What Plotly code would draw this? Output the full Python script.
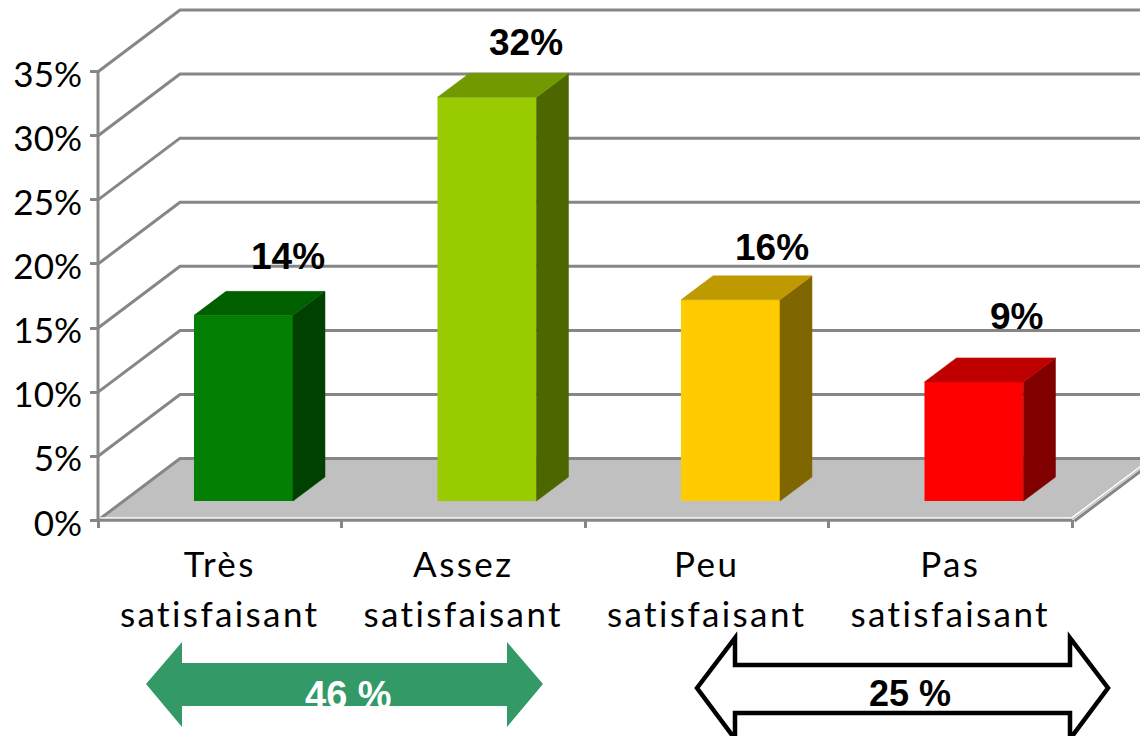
import plotly.graph_objects as go

# ---- data ----
categories = ["Très<br>satisfaisant", "Assez<br>satisfaisant", "Peu<br>satisfaisant", "Pas<br>satisfaisant"]
values = [14.49, 31.5, 15.7, 9.3]
front_colors = ["#038003", "#99CC00", "#FFCC00", "#FF0000"]
side_colors = ["#004000", "#4D6600", "#806600", "#800000"]
top_colors = ["#006000", "#739900", "#BF9900", "#BF0000"]
y_ticks = [0, 5, 10, 15, 20, 25, 30, 35]
y_tick_labels = ["0%", "5%", "10%", "15%", "20%", "25%", "30%", "35%"]
label_nudge_x = [45, 39, 42, 43]
label_nudge_y = [36, 32, 30, 43]

# ---- geometry (pixels per unit, 3D offsets) ----
PX_X, PX_Y = 243.5, 12.817
AX_L, AX_B = 98, 520.3
PLOT_L, PLOT_B = 90, 528
W, H = 1140, 736
DX_WALL, DY_WALL = 82 / PX_X, 61.7 / PX_Y
DX_BAR, DY_BAR = 32 / PX_X, 24 / PX_Y
BAR_W = 99 / PX_X
BAR_SHIFT = 0.5975
BASE = 1.5
GRID = "#868686"


def line(xs, ys, color=GRID, width=3):
    path = "M" + " L".join(f"{x},{y}" for x, y in zip(xs, ys))
    return dict(type="path", path=path, xref="x", yref="y", layer="below",
                line=dict(color=color, width=width))


def px_path(points):
    return "M" + " L".join(
        f"{(x - PLOT_L) / (W - PLOT_L)},{(PLOT_B - y) / PLOT_B}" for x, y in points) + " Z"


n = len(values)
xend = float(n)
shapes = []
# floor
shapes.append(dict(type="path", xref="x", yref="y", layer="below",
                   path=f"M0,0 L{DX_WALL},{DY_WALL} L{xend + DX_WALL},{DY_WALL} L{xend},0 Z",
                   fillcolor="#C0C0C0", line=dict(width=0)))
# wall grid lines
for t in y_ticks:
    shapes.append(line([0, DX_WALL, xend + DX_WALL], [t, t + DY_WALL, t + DY_WALL]))
# highlights and axes
shapes.append(line([0, xend], [0.17, 0.17], "#FFFFFF", 1.5))
shapes.append(line([xend - 0.002, xend + DX_WALL], [0.17, DY_WALL + 0.17], "#FFFFFF", 1.5))
shapes.append(line([xend + 0.01, xend + DX_WALL + 0.01], [-0.05, DY_WALL - 0.05]))
shapes.append(line([0, xend], [0, 0]))
shapes.append(line([0, 0], [0, 35]))

fig = go.Figure()
centers = [i + BAR_SHIFT for i in range(n)]
fig.add_trace(go.Bar(x=centers, y=values, base=[BASE] * n, width=[BAR_W] * n,
                     marker=dict(color=front_colors, line=dict(width=0)), hoverinfo="skip"))

annotations = []
for i, (c, v) in enumerate(zip(centers, values)):
    l, r = c - BAR_W / 2, c + BAR_W / 2
    b, t = BASE, BASE + v
    fig.add_trace(go.Scatter(x=[r, r + DX_BAR, r + DX_BAR, r, r], y=[b, b + DY_BAR, t + DY_BAR, t, b],
                             mode="lines", fill="toself", fillcolor=side_colors[i],
                             line=dict(color=side_colors[i], width=0.5), hoverinfo="skip"))
    fig.add_trace(go.Scatter(x=[l, r, r + DX_BAR, l + DX_BAR, l], y=[t, t, t + DY_BAR, t + DY_BAR, t],
                             mode="lines", fill="toself", fillcolor=top_colors[i],
                             line=dict(color=top_colors[i], width=0.5), hoverinfo="skip"))
    annotations.append(dict(x=c, y=t, xref="x", yref="y", text=f"{v:.0f}%", showarrow=False,
                            xanchor="center", yanchor="bottom",
                            xshift=label_nudge_x[i], yshift=label_nudge_y[i],
                            font=dict(family="Liberation Sans", size=37, color="#000000", weight="bold")))

# range arrows
green_arrow = [(146, 684), (182, 642), (182, 663), (507, 663), (507, 642), (543, 684),
               (507, 727), (507, 706), (182, 706), (182, 727)]
white_arrow = [(697, 688), (735, 638), (735, 665), (1070, 665), (1070, 638), (1108, 688),
               (1070, 739), (1070, 713), (735, 713), (735, 739)]
shapes.append(dict(type="path", xref="paper", yref="paper", layer="above", path=px_path(green_arrow),
                   fillcolor="#339966", line=dict(width=0)))
shapes.append(dict(type="path", xref="paper", yref="paper", layer="above", path=px_path(white_arrow),
                   fillcolor="#FFFFFF", line=dict(color="#000000", width=4.5)))
for text, px, base_y, color, size in [("46 %", 348, 710, "#FFFFFF", 38), ("25 %", 910, 708, "#000000", 36)]:
    annotations.append(dict(x=(px - PLOT_L) / (W - PLOT_L), y=(PLOT_B - base_y) / PLOT_B, xref="paper", yref="paper",
                            text=text, showarrow=False, xanchor="center", yanchor="bottom", yshift=-8,
                            font=dict(family="Liberation Sans", size=size, color=color, weight="bold")))

x_tick_font = dict(family="Lato", size=35, color="#000000")
y_tick_font = dict(family="Lato", size=35, color="#000000")
fig.update_layout(
    width=W, height=H, showlegend=False, paper_bgcolor="#FFFFFF", plot_bgcolor="#FFFFFF",
    margin=dict(l=PLOT_L, r=0, t=0, b=H - PLOT_B, pad=0),
    shapes=shapes, annotations=annotations,
    xaxis=dict(range=[(PLOT_L - AX_L) / PX_X, (W - AX_L) / PX_X], showgrid=False, zeroline=False, showline=False,
               tickmode="array", tickvals=[i + 0.5 for i in range(n)], ticktext=categories, ticks="",
               tickfont=x_tick_font, tickangle=0, ticklabelstandoff=13,
               minor=dict(tickmode="array", tickvals=list(range(n + 1)), ticks="inside", ticklen=8,
                          tickwidth=3, tickcolor=GRID, showgrid=False)),
    yaxis=dict(range=[(AX_B - PLOT_B) / PX_Y, AX_B / PX_Y], showgrid=False, zeroline=False, showline=False,
               tickmode="array", tickvals=y_ticks, ticktext=y_tick_labels, ticks="inside", ticklen=8,
               tickwidth=3, tickcolor=GRID, tickfont=y_tick_font, ticklabelstandoff=7),
)

post = """
document.body.style.margin = '0';
document.querySelectorAll('.xtick text').forEach(function (t) {
  t.style.letterSpacing = '2.4px';
  t.querySelectorAll('tspan.line').forEach(function (s, i) { if (i > 0) s.setAttribute('dy', '50px'); });
});
document.querySelectorAll('.ytick text').forEach(function (t) {
  t.setAttribute('y', parseFloat(t.getAttribute('y')) + 3);
});
"""
fig.write_html("out.html", post_script=post, config=dict(displayModeBar=False))
